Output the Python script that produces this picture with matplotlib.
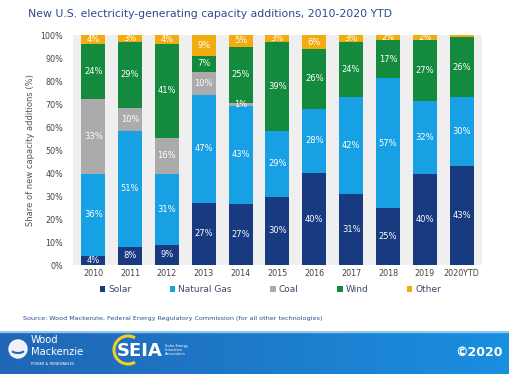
import numpy as np
import matplotlib
matplotlib.use("Agg")
import matplotlib.pyplot as plt
from matplotlib.patches import Rectangle, Circle, Arc
from matplotlib.colors import LinearSegmentedColormap

years = ["2010", "2011", "2012", "2013", "2014", "2015", "2016", "2017", "2018", "2019", "2020YTD"]
solar = [4, 8, 9, 27, 27, 30, 40, 31, 25, 40, 43]
gas = [36, 51, 31, 47, 43, 29, 28, 42, 57, 32, 30]
coal = [33, 10, 16, 10, 1, 0, 0, 0, 0, 0, 0]
wind = [24, 29, 41, 7, 25, 39, 26, 24, 17, 27, 26]
other = [4, 3, 4, 9, 5, 3, 6, 3, 2, 2, 1]

series_names = ["Solar", "Natural Gas", "Coal", "Wind", "Other"]
series = [solar, gas, coal, wind, other]
colors = ["#173a80", "#18a0e4", "#ababab", "#138a3e", "#f2ac10"]

fig = plt.figure(figsize=(5.1, 3.74), dpi=100)
fig.patch.set_facecolor("white")

ax = fig.add_axes([0.143, 0.2914, 0.802, 0.6146])
ax.set_facecolor("#efefef")

data = np.array(series, dtype=float)
totals = data.sum(axis=0)
norm = data / totals * 100
x = np.arange(len(years))
bottom = np.zeros(len(years))
for i, (name, col) in enumerate(zip(series_names, colors)):
    ax.bar(x, norm[i], bottom=bottom, width=0.65, color=col, label=name, zorder=2)
    for j in range(len(years)):
        v = data[i, j]
        if v >= 1 and not (years[j] == "2020YTD" and name == "Other"):
            ax.text(x[j], bottom[j] + norm[i, j] / 2, f"{int(v)}%", ha="center", va="center",
                    color="white", fontsize=6, zorder=3)
    bottom += norm[i]

ax.set_xlim(-0.55, len(years) - 0.45)
ax.set_ylim(0, 100)
ax.set_yticks(np.arange(0, 101, 10))
ax.set_yticklabels([f"{v}%" for v in range(0, 101, 10)])
ax.set_xticks(x)
ax.set_xticklabels(years)
ax.tick_params(length=0, labelsize=5.8, colors="#444444", pad=3)
ax.tick_params(axis="y", pad=7)
for s in ax.spines.values():
    s.set_visible(False)
ax.set_ylabel("Share of new capacity additions (%)", fontsize=6, color="#555555", labelpad=4)

leg = fig.legend(loc="center", bbox_to_anchor=(0.53, 0.225), ncol=5, frameon=False,
                 fontsize=6.5, handlelength=0.6, handleheight=0.6, handletextpad=0.3,
                 columnspacing=4.3, labelcolor="#3a4a6a")

fig.text(0.055, 0.963, "New U.S. electricity-generating capacity additions, 2010-2020 YTD",
         fontsize=7.8, color="#2c4b8e", ha="left", va="center")
fig.text(0.045, 0.148, "Source: Wood Mackenzie, Federal Energy Regulatory Commission (for all other technologies)",
         fontsize=4.6, color="#2c4b8e", ha="left", va="center")

# footer band (pixel coordinates)
fax = fig.add_axes([0, 0, 1, 43 / 374])
grad = np.linspace(0, 1, 256).reshape(1, -1)
cmap = LinearSegmentedColormap.from_list("band", ["#2166b4", "#1a8fe0"])
fax.imshow(grad, aspect="auto", cmap=cmap, extent=[0, 510, 0, 43])
fax.set_xlim(0, 510)
fax.set_ylim(0, 43)
fax.axis("off")
fax.add_patch(Rectangle((0, 42), 510, 1.2, color="#8ec8f0"))
# Wood Mackenzie logo approx
fax.add_patch(Circle((18, 25), 9, color="white", alpha=0.92))
fax.add_patch(Arc((18, 25), 14, 8, theta1=200, theta2=340, color="#2166b4", lw=1.5))
fax.text(31, 34, "Wood", color="white", fontsize=7.2, ha="left", va="center")
fax.text(31, 22, "Mackenzie", color="white", fontsize=7.2, ha="left", va="center")
fax.text(31, 10, "POWER & RENEWABLES", color="white", fontsize=2.6, ha="left", va="center")
# SEIA logo approx
fax.add_patch(Arc((128, 24), 28, 28, theta1=60, theta2=300, color="#f0d020", lw=2.2))
fax.text(140, 23, "SEIA", color="white", fontsize=13, ha="center", va="center",
         fontweight="bold")
fax.text(165, 24, "Solar Energy\nIndustries\nAssociation", color="white", fontsize=2.6,
         ha="left", va="center", linespacing=1.1)
fax.text(503, 21, "©2020", color="white", fontsize=9, fontweight="bold", ha="right",
         va="center")

fig.savefig("out.png", dpi=100)
